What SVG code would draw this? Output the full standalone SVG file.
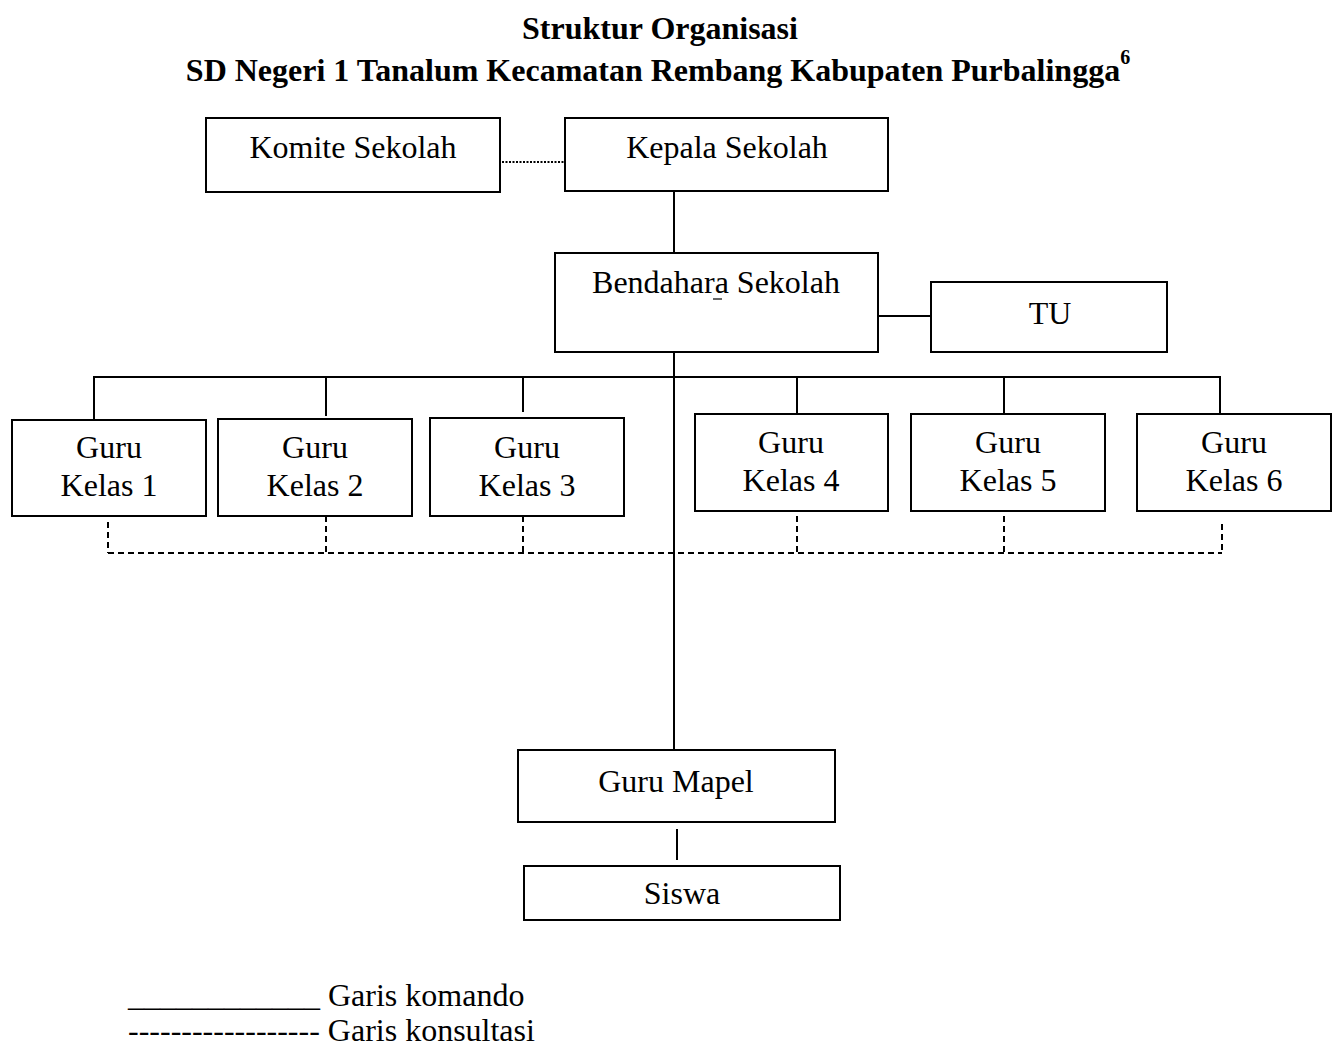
<svg xmlns="http://www.w3.org/2000/svg" width="1338" height="1048" viewBox="0 0 1338 1048">
<style>
text{font-family:"Liberation Serif","Times New Roman",serif;fill:#000}
.t{font-size:32px;font-weight:bold;text-anchor:middle}
.n{font-size:32px;text-anchor:middle}
.l{font-size:32px}
rect{fill:#fff;stroke:#000;stroke-width:2}
.c line{stroke:#000;stroke-width:2;fill:none}
.c .d{stroke-dasharray:6 4}
.c .o{stroke-dasharray:2 1.5}
</style>
<rect x="0" y="0" width="1338" height="1048" style="stroke:none"/>
<g id="title">
<text class="t" x="660" y="39">Struktur Organisasi</text>
<text class="t" x="658" y="81">SD Negeri 1 Tanalum Kecamatan Rembang Kabupaten Purbalingga<tspan font-size="20" dy="-17">6</tspan></text>
</g>
<g class="c" id="connectors">
<line class="o" x1="502" y1="162" x2="564" y2="162"/>
<line x1="674" y1="192" x2="674" y2="253"/>
<line x1="878" y1="316" x2="931" y2="316"/>
<line x1="674" y1="352" x2="674" y2="750"/>
<line x1="93" y1="377" x2="1221" y2="377"/>
<line x1="94" y1="377" x2="94" y2="420"/>
<line x1="326" y1="377" x2="326" y2="416"/>
<line x1="523" y1="377" x2="523" y2="412"/>
<line x1="797" y1="377" x2="797" y2="414"/>
<line x1="1004" y1="377" x2="1004" y2="414"/>
<line x1="1220" y1="377" x2="1220" y2="414"/>
<line class="d" x1="108" y1="553" x2="1222" y2="553"/>
<line class="d" x1="108" y1="522" x2="108" y2="553"/>
<line class="d" x1="326" y1="516" x2="326" y2="553"/>
<line class="d" x1="523" y1="516" x2="523" y2="553"/>
<line class="d" x1="797" y1="516" x2="797" y2="553"/>
<line class="d" x1="1004" y1="516" x2="1004" y2="553"/>
<line class="d" x1="1222" y1="524" x2="1222" y2="553"/>
<line x1="677" y1="829" x2="677" y2="860"/>
</g>
<g id="komite"><rect x="206" y="118" width="294" height="74"/><text class="n" x="353" y="158">Komite Sekolah</text></g>
<g id="kepala"><rect x="565" y="118" width="323" height="73"/><text class="n" x="727" y="158">Kepala Sekolah</text></g>
<g id="bendahara"><rect x="555" y="253" width="323" height="99"/><text class="n" x="716" y="293">Bendahara Sekolah</text><line x1="713" y1="299" x2="722" y2="299" stroke="#000" stroke-width="1.2"/></g>
<g id="tu"><rect x="931" y="282" width="236" height="70"/><text class="n" x="1050" y="324">TU</text></g>
<g id="guru1"><rect x="12" y="420" width="194" height="96"/><text class="n" x="109" y="458">Guru</text><text class="n" x="109" y="496">Kelas 1</text></g>
<g id="guru2"><rect x="218" y="419" width="194" height="97"/><text class="n" x="315" y="458">Guru</text><text class="n" x="315" y="496">Kelas 2</text></g>
<g id="guru3"><rect x="430" y="418" width="194" height="98"/><text class="n" x="527" y="458">Guru</text><text class="n" x="527" y="496">Kelas 3</text></g>
<g id="guru4"><rect x="695" y="414" width="193" height="97"/><text class="n" x="791" y="453">Guru</text><text class="n" x="791" y="491">Kelas 4</text></g>
<g id="guru5"><rect x="911" y="414" width="194" height="97"/><text class="n" x="1008" y="453">Guru</text><text class="n" x="1008" y="491">Kelas 5</text></g>
<g id="guru6"><rect x="1137" y="414" width="194" height="97"/><text class="n" x="1234" y="453">Guru</text><text class="n" x="1234" y="491">Kelas 6</text></g>
<g id="mapel"><rect x="518" y="750" width="317" height="72"/><text class="n" x="676" y="792">Guru Mapel</text></g>
<g id="siswa"><rect x="524" y="866" width="316" height="54"/><text class="n" x="682" y="904">Siswa</text></g>
<g id="legend">
<text class="l" x="128" y="1006">____________ Garis komando</text>
<text class="l" x="128" y="1041">------------------ Garis konsultasi</text>
</g>
</svg>
